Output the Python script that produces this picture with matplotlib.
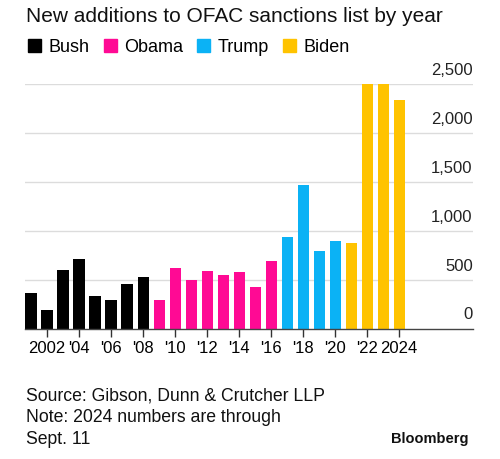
import matplotlib.pyplot as plt
from matplotlib.patches import Patch
from matplotlib.transforms import offset_copy

plt.rcParams['font.family'] = ['Liberation Sans', 'DejaVu Sans']

# data
years = list(range(2001, 2025))
additions = [361, 188, 596, 714, 330, 293, 456, 527,
             289, 616, 497, 592, 551, 582, 425, 694,
             943, 1469, 790, 898,
             881, 2500, 2500, 2344]
presidents = ['Bush'] * 8 + ['Obama'] * 8 + ['Trump'] * 4 + ['Biden'] * 4
colors = {'Bush': '#000000', 'Obama': '#ff0a94', 'Trump': '#0bb2f5', 'Biden': '#ffc300'}
xtick_years = list(range(2002, 2025, 2))
xtick_labels = ['2002', "'04", "'06", "'08", "'10", "'12", "'14", "'16", "'18", "'20", "'22", '2024']
ytick_vals = [0, 500, 1000, 1500, 2000, 2500]

fig = plt.figure(figsize=(5, 4.59), dpi=100)
W, H = 500, 459
ax = fig.add_axes([25.3 / W, (H - 328.7) / H, (472.7 - 25.3) / W, (328.7 - 84.3) / H])

bar_colors = [colors[p] for p in presidents]
ax.bar(years, additions, width=0.69, color=bar_colors, zorder=3)

ax.set_xlim(2000.644, 2028.6)
ax.set_ylim(0, 2500)

for v in ytick_vals[1:]:
    ax.axhline(v, color='#dcdcdc', lw=1, zorder=1)

for s in ['top', 'right', 'left']:
    ax.spines[s].set_visible(False)
ax.spines['bottom'].set_color('#444444')
ax.spines['bottom'].set_linewidth(1)
ax.spines['bottom'].set_zorder(4)

ax.set_yticks([])
ax.set_xticks(xtick_years)
ax.set_xticklabels(xtick_labels, fontsize=12)
ax.tick_params(axis='x', length=6, width=1, color='#333333', pad=3, direction='out')

# y labels sit above gridlines, right aligned inside the plot
ytrans = offset_copy(ax.get_yaxis_transform(), fig=fig, x=0, y=4.5, units='points')
for v in ytick_vals:
    ax.text(1.0, v, f'{v:,}', transform=ytrans, ha='right', va='bottom',
            fontsize=12, color='#222222', clip_on=False)

fig.text(26 / W, 1 - 16 / H, 'New additions to OFAC sanctions list by year',
         fontsize=15, ha='left', va='center', color='#111111')

handles = [Patch(color=colors[p], label=p) for p in ['Bush', 'Obama', 'Trump', 'Biden']]
fig.legend(handles=handles, loc='center left', bbox_to_anchor=(28 / W, 1 - 47 / H),
           ncol=4, frameon=False, fontsize=13, handlelength=0.72, handleheight=0.72,
           handletextpad=0.4, columnspacing=0.8, borderaxespad=0, borderpad=0)

notes = ['Source: Gibson, Dunn & Crutcher LLP', 'Note: 2024 numbers are through', 'Sept. 11']
for i, line in enumerate(notes):
    fig.text(26 / W, 1 - (396 + 21.5 * i) / H, line, fontsize=12.7, ha='left', va='center',
             color='#111111')
fig.text(468 / W, 1 - 439 / H, 'Bloomberg', fontsize=10.5, fontweight='bold',
         ha='right', va='center', color='#111111')

fig.savefig('out.png', dpi=100)
